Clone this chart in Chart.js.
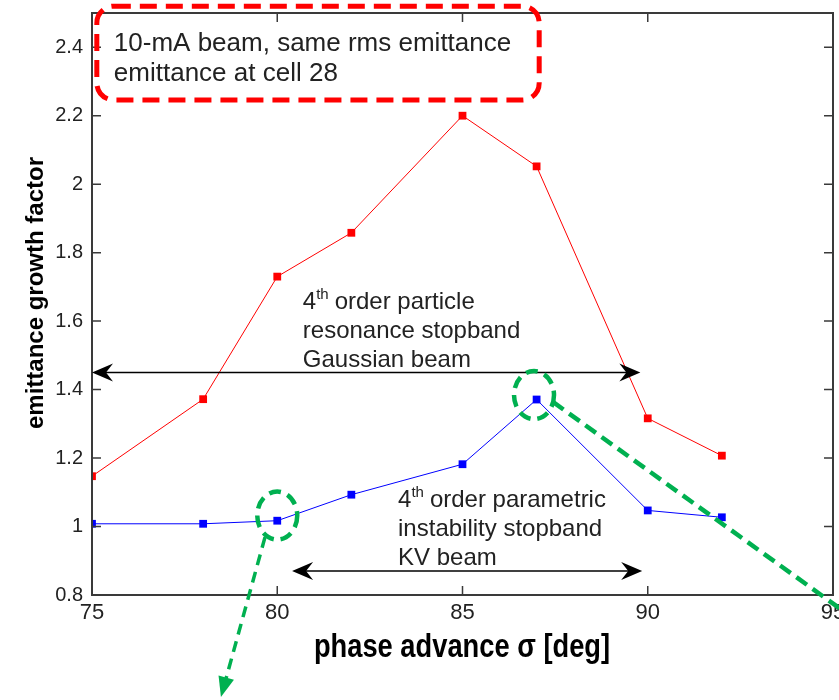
<!DOCTYPE html>
<html>
<head>
<meta charset="utf-8">
<script src="https://cdn.jsdelivr.net/npm/chart.js@4.4.1/dist/chart.umd.min.js"></script>
<style>
  html, body { margin: 0; padding: 0; background: #fff; }
  canvas { display: block; }
</style>
</head>
<body>
<canvas id="growthChart" width="839" height="700"></canvas>
<script>
const phaseAdvance = [75, 78, 80, 82, 85, 87, 90, 92];
const gaussianGrowth = [1.147, 1.372, 1.73, 1.858, 2.2, 2.052, 1.316, 1.207];
const kvGrowth = [1.008, 1.008, 1.017, 1.093, 1.182, 1.371, 1.047, 1.027];
const xTickValues = [75, 80, 85, 90, 95];
const yTickValues = [0.8, 1, 1.2, 1.4, 1.6, 1.8, 2, 2.2, 2.4];

const boxLines = ["10-mA beam, same rms emittance", "emittance at cell 28"];
const gaussianNote = ["order particle", "resonance stopband", "Gaussian beam"];
const kvNote = ["order parametric", "instability stopband", "KV beam"];

// stopband ranges (deg) and the height they are drawn at
const gaussianBand = [75, 89.8];
const kvBand = [80.4, 89.85];

const TEXT = "#222";

function toPx(chart, x, y) {
  return [chart.scales.x.getPixelForValue(x), chart.scales.y.getPixelForValue(y)];
}

function arrowHead(ctx, tx, ty, dir) {
  ctx.beginPath();
  ctx.moveTo(tx, ty);
  ctx.lineTo(tx - dir * 21, ty - 9);
  ctx.lineTo(tx - dir * 14, ty);
  ctx.lineTo(tx - dir * 21, ty + 9);
  ctx.closePath();
  ctx.fill();
}

function bandArrow(ctx, chart, band, yVal) {
  const [x1, y] = toPx(chart, band[0], yVal);
  const [x2] = toPx(chart, band[1], yVal);
  ctx.save();
  ctx.strokeStyle = "#000";
  ctx.fillStyle = "#000";
  ctx.lineWidth = 1.5;
  ctx.beginPath();
  ctx.moveTo(x1 + 10, y);
  ctx.lineTo(x2 - 10, y);
  ctx.stroke();
  arrowHead(ctx, x1, y, -1);
  arrowHead(ctx, x2, y, 1);
  ctx.restore();
}

function note(ctx, chart, lines, xVal, yVal, withOrder) {
  const [x, y] = toPx(chart, xVal, yVal);
  ctx.save();
  ctx.fillStyle = TEXT;
  ctx.textBaseline = "alphabetic";
  ctx.textAlign = "left";
  lines.forEach((line, i) => {
    const by = y + i * 29;
    let lx = x;
    if (i === 0 && withOrder) {
      ctx.font = '24px "Liberation Sans"';
      ctx.fillText("4", lx, by);
      lx += ctx.measureText("4").width;
      ctx.font = '15px "Liberation Sans"';
      ctx.fillText("th", lx, by - 10);
      lx += ctx.measureText("th").width + 6;
    }
    ctx.font = '24px "Liberation Sans"';
    ctx.fillText(line, lx, by);
  });
  ctx.restore();
}

function roundedRect(ctx, x, y, w, h, r) {
  ctx.beginPath();
  ctx.moveTo(x + r, y);
  ctx.lineTo(x + w - r, y);
  ctx.arcTo(x + w, y, x + w, y + r, r);
  ctx.lineTo(x + w, y + h - r);
  ctx.arcTo(x + w, y + h, x + w - r, y + h, r);
  ctx.lineTo(x + r, y + h);
  ctx.arcTo(x, y + h, x, y + h - r, r);
  ctx.lineTo(x, y + r);
  ctx.arcTo(x, y, x + r, y, r);
  ctx.closePath();
}

const framePlugin = {
  id: "frame",
  afterDatasetsDraw(chart) {
    const { ctx, chartArea: a } = chart;
    ctx.save();
    ctx.strokeStyle = "#3a3a3a";
    ctx.lineWidth = 2;
    ctx.strokeRect(a.left, a.top, a.right - a.left, a.bottom - a.top);
    ctx.lineWidth = 1.5;
    ctx.beginPath();
    xTickValues.forEach((v) => {
      const px = chart.scales.x.getPixelForValue(v);
      ctx.moveTo(px, a.bottom);
      ctx.lineTo(px, a.bottom - 9);
      ctx.moveTo(px, a.top);
      ctx.lineTo(px, a.top + 9);
    });
    yTickValues.forEach((v) => {
      const py = chart.scales.y.getPixelForValue(v);
      ctx.moveTo(a.left, py);
      ctx.lineTo(a.left + 9, py);
      ctx.moveTo(a.right, py);
      ctx.lineTo(a.right - 9, py);
    });
    ctx.stroke();
    ctx.restore();
  },
  afterDraw(chart) {
    const { ctx } = chart;

    // axis titles (x title is condensed like the original)
    ctx.save();
    ctx.fillStyle = "#000";
    ctx.textAlign = "center";
    ctx.textBaseline = "middle";
    ctx.translate(462, 648);
    ctx.scale(0.88, 1.05);
    ctx.font = 'bold 31px "Liberation Sans"';
    ctx.fillText("phase advance \u03c3 [deg]", 0, 0);
    ctx.restore();
    ctx.save();
    ctx.fillStyle = "#000";
    ctx.textAlign = "center";
    ctx.textBaseline = "middle";
    ctx.translate(36, 293);
    ctx.rotate(-Math.PI / 2);
    ctx.font = 'bold 24px "Liberation Sans"';
    ctx.fillText("emittance growth factor", 0, 0);
    ctx.restore();

    // stopband arrows and notes
    bandArrow(ctx, chart, gaussianBand, 1.45);
    bandArrow(ctx, chart, kvBand, 0.87);
    note(ctx, chart, gaussianNote, 80.69, 1.635, true);
    note(ctx, chart, kvNote, 83.26, 1.057, true);

    // red dashed label box
    const [bx1, by1] = toPx(chart, 75.13, 2.52);
    const [bx2, by2] = toPx(chart, 87.07, 2.246);
    ctx.save();
    ctx.strokeStyle = "#ff0000";
    ctx.lineWidth = 5;
    ctx.setLineDash([17, 9]);
    roundedRect(ctx, bx1, by1, bx2 - bx1, by2 - by1, 17);
    ctx.stroke();
    ctx.restore();
    ctx.save();
    ctx.fillStyle = TEXT;
    ctx.font = '26px "Liberation Sans"';
    const [tx, ty] = toPx(chart, 75.59, 2.389);
    ctx.fillText(boxLines[0], tx, ty);
    ctx.fillText(boxLines[1], tx, ty + 30);
    ctx.restore();

    // green markers
    ctx.save();
    ctx.strokeStyle = "#00b050";
    ctx.fillStyle = "#00b050";
    ctx.lineWidth = 4.5;
    ctx.setLineDash([12, 7]);
    [[80.0, 1.032], [86.93, 1.384]].forEach(([cx, cy]) => {
      const [ex, ey] = toPx(chart, cx, cy);
      ctx.beginPath();
      ctx.ellipse(ex, ey, 20, 24, 0, 0, Math.PI * 2);
      ctx.stroke();
    });
    ctx.lineWidth = 3.5;
    ctx.setLineDash([11, 7]);
    const [ax1, ay1] = toPx(chart, 79.67, 0.969);
    const [ax2, ay2] = toPx(chart, 78.48, 0.502);
    const ang = Math.atan2(ay2 - ay1, ax2 - ax1);
    ctx.beginPath();
    ctx.moveTo(ax1, ay1);
    ctx.lineTo(ax2 - Math.cos(ang) * 16, ay2 - Math.sin(ang) * 16);
    ctx.stroke();
    ctx.setLineDash([]);
    ctx.beginPath();
    ctx.moveTo(ax2, ay2);
    ctx.lineTo(ax2 - Math.cos(ang) * 20 - Math.sin(ang) * 8, ay2 - Math.sin(ang) * 20 + Math.cos(ang) * 8);
    ctx.lineTo(ax2 - Math.cos(ang) * 20 + Math.sin(ang) * 8, ay2 - Math.sin(ang) * 20 - Math.cos(ang) * 8);
    ctx.closePath();
    ctx.fill();
    ctx.lineWidth = 4.5;
    ctx.setLineDash([13, 7]);
    const [lx1, ly1] = toPx(chart, 87.44, 1.364);
    const [lx2, ly2] = toPx(chart, 96.81, 0.634);
    ctx.beginPath();
    ctx.moveTo(lx1, ly1);
    ctx.lineTo(lx2, ly2);
    ctx.stroke();
    ctx.restore();
  }
};

const ctx = document.getElementById("growthChart").getContext("2d");
new Chart(ctx, {
  type: "line",
  data: {
    datasets: [
      {
        label: "Gaussian beam",
        data: phaseAdvance.map((x, i) => ({ x, y: gaussianGrowth[i] })),
        borderColor: "#ff0000",
        backgroundColor: "#ff0000",
        borderWidth: 1,
        pointStyle: "rect",
        pointRadius: 5.5,
        pointBorderWidth: 0,
        tension: 0
      },
      {
        label: "KV beam",
        data: phaseAdvance.map((x, i) => ({ x, y: kvGrowth[i] })),
        borderColor: "#0000ff",
        backgroundColor: "#0000ff",
        borderWidth: 1,
        pointStyle: "rect",
        pointRadius: 5.5,
        pointBorderWidth: 0,
        tension: 0
      }
    ]
  },
  options: {
    responsive: false,
    animation: false,
    devicePixelRatio: 1,
    layout: { padding: { top: 13, right: 6, left: 0, bottom: 0 } },
    plugins: { legend: { display: false }, tooltip: { enabled: false } },
    scales: {
      x: {
        type: "linear",
        min: 75,
        max: 95,
        grid: { display: false, drawTicks: false },
        border: { display: false },
        afterBuildTicks: (scale) => {
          scale.ticks = xTickValues.map((value) => ({ value }));
        },
        afterFit: (scale) => {
          scale.height = 105;
          scale.paddingLeft = 0;
          scale.paddingRight = 0;
        },
        ticks: {
          autoSkip: false,
          maxRotation: 0,
          padding: 5,
          color: TEXT,
          font: { family: "'Liberation Sans', sans-serif", size: 22 },
          callback: (v) => String(v)
        }
      },
      y: {
        min: 0.8,
        max: 2.5,
        grid: { display: false, drawTicks: false },
        border: { display: false },
        afterBuildTicks: (scale) => {
          scale.ticks = yTickValues.map((value) => ({ value }));
        },
        afterFit: (scale) => {
          scale.width = 92;
          scale.paddingTop = 0;
          scale.paddingBottom = 0;
        },
        ticks: {
          autoSkip: false,
          padding: 9,
          color: TEXT,
          font: { family: "'Liberation Sans', sans-serif", size: 20 },
          callback: (v) => String(v)
        }
      }
    }
  },
  plugins: [framePlugin]
});
</script>
</body>
</html>
